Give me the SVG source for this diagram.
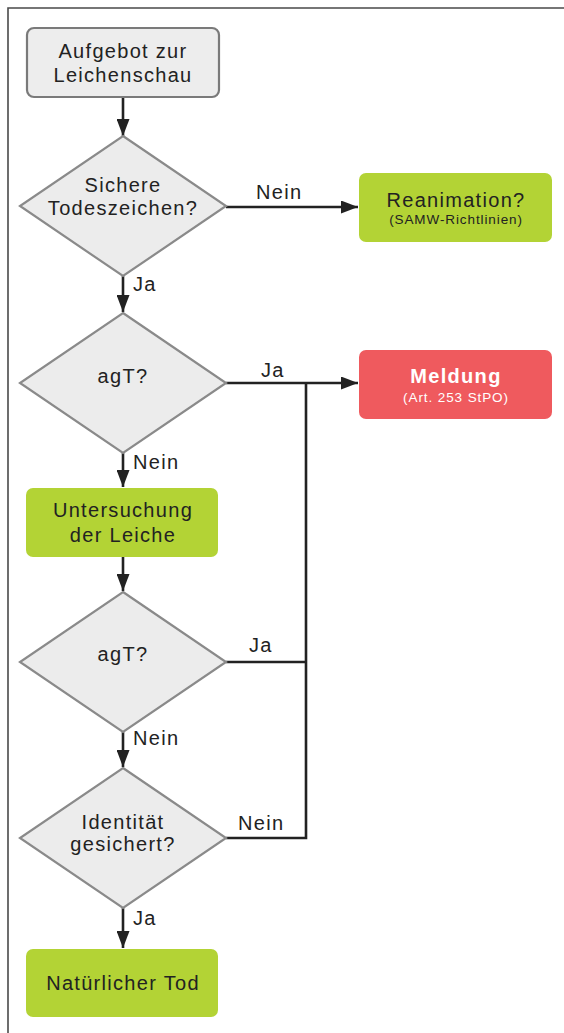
<svg xmlns="http://www.w3.org/2000/svg" width="564" height="1033" viewBox="0 0 564 1033">
<style>
  .t { font-family: "Liberation Sans", Arial, sans-serif; font-size: 20px; fill: #222; letter-spacing: 1.3px; text-anchor: middle; }
  .s { font-size: 13.5px; letter-spacing: 0.9px; }
  .w { fill: #fff; }
  .b { font-weight: bold; }
  .gray { fill: #ededed; stroke: #7a7a7a; stroke-width: 2.2; }
  .dia { fill: #ececec; stroke: #8a8a8a; stroke-width: 2.2; }
  .green { fill: #b3d335; }
  .red { fill: #ef5a5e; }
  .ln { fill: none; stroke: #222; stroke-width: 2.6; }
  .lbl { font-family: "Liberation Sans", Arial, sans-serif; font-size: 20px; fill: #222; letter-spacing: 1.3px; }
</style>
<defs>
  <marker id="ah" viewBox="0 0 17 13" refX="17" refY="6.5" markerWidth="17" markerHeight="13" markerUnits="userSpaceOnUse" orient="auto">
    <path d="M0,0 L17,6.5 L0,13 Z" fill="#222"/>
  </marker>
</defs>
<rect width="564" height="1033" fill="#fff"/>
<path d="M8,1033 V8 H564" fill="none" stroke="#4a4a4a" stroke-width="1.6"/>

<g id="connectors">
  <line class="ln" x1="123" y1="97" x2="123" y2="136" marker-end="url(#ah)"/>
  <line class="ln" x1="226" y1="207" x2="358" y2="207" marker-end="url(#ah)"/>
  <line class="ln" x1="123" y1="276" x2="123" y2="312" marker-end="url(#ah)"/>
  <line class="ln" x1="226" y1="383" x2="358" y2="383" marker-end="url(#ah)"/>
  <line class="ln" x1="123" y1="453" x2="123" y2="487" marker-end="url(#ah)"/>
  <line class="ln" x1="123" y1="557" x2="123" y2="591" marker-end="url(#ah)"/>
  <line class="ln" x1="123" y1="732" x2="123" y2="767" marker-end="url(#ah)"/>
  <line class="ln" x1="123" y1="908" x2="123" y2="948" marker-end="url(#ah)"/>
  <polyline class="ln" points="226,662 306,662"/>
  <polyline class="ln" points="226,838 306,838 306,383"/>
  <text class="lbl" x="256" y="199">Nein</text>
  <text class="lbl" x="133" y="291">Ja</text>
  <text class="lbl" x="261" y="377">Ja</text>
  <text class="lbl" x="133" y="469">Nein</text>
  <text class="lbl" x="249" y="652">Ja</text>
  <text class="lbl" x="133" y="745">Nein</text>
  <text class="lbl" x="238" y="830">Nein</text>
  <text class="lbl" x="133" y="925">Ja</text>
</g>

<g id="aufgebot">
  <rect class="gray" x="27" y="28" width="192" height="69" rx="7"/>
  <text class="t" x="123" y="58">Aufgebot zur</text>
  <text class="t" x="123" y="82">Leichenschau</text>
</g>

<g id="todeszeichen">
  <polygon class="dia" points="123,136 226,206 123,276 20,206"/>
  <text class="t" x="123" y="192">Sichere</text>
  <text class="t" x="123" y="215">Todeszeichen?</text>
</g>

<g id="reanimation">
  <rect class="green" x="359" y="173" width="193" height="69" rx="7"/>
  <text class="t" x="456" y="207">Reanimation?</text>
  <text class="t s" x="456" y="224">(SAMW-Richtlinien)</text>
</g>

<g id="agt1">
  <polygon class="dia" points="123,313 226,383 123,453 20,383"/>
  <text class="t" x="123" y="383">agT?</text>
</g>

<g id="meldung">
  <rect class="red" x="359" y="350" width="193" height="69" rx="7"/>
  <text class="t w b" x="456" y="383">Meldung</text>
  <text class="t w s" x="456" y="402">(Art. 253 StPO)</text>
</g>

<g id="untersuchung">
  <rect class="green" x="26" y="488" width="192" height="69" rx="7"/>
  <text class="t" x="123" y="517">Untersuchung</text>
  <text class="t" x="123" y="542">der Leiche</text>
</g>

<g id="agt2">
  <polygon class="dia" points="123,592 226,662 123,732 20,662"/>
  <text class="t" x="123" y="661">agT?</text>
</g>

<g id="identitaet">
  <polygon class="dia" points="123,768 226,838 123,908 20,838"/>
  <text class="t" x="123" y="829">Identität</text>
  <text class="t" x="123" y="851">gesichert?</text>
</g>

<g id="natuerlicher-tod">
  <rect class="green" x="26" y="949" width="192" height="68" rx="7"/>
  <text class="t" x="123" y="990">Natürlicher Tod</text>
</g>
</svg>
